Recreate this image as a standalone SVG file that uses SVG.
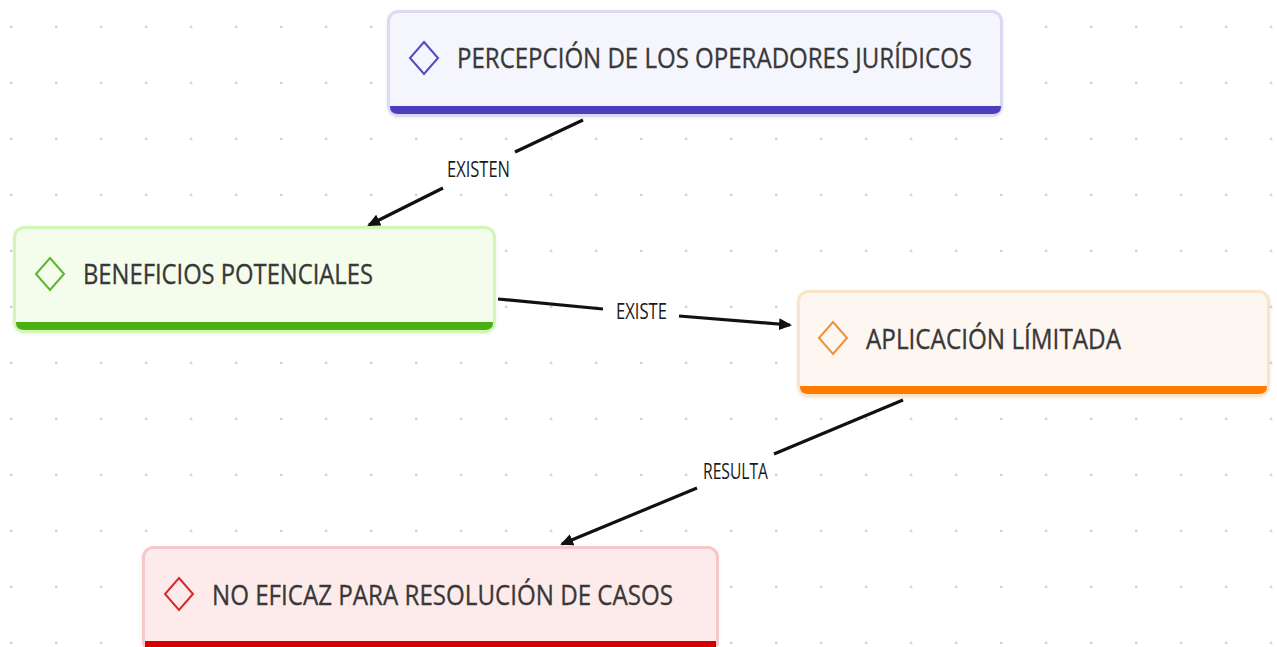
<svg xmlns="http://www.w3.org/2000/svg" width="1277" height="647" viewBox="0 0 1277 647">
  <defs>
    <pattern id="dots" x="0" y="0" width="45" height="56" patternUnits="userSpaceOnUse">
      <rect x="10" y="25.7" width="2.4" height="2.4" fill="#d2d2d2"/>
    </pattern>
    <marker id="arrow" markerUnits="userSpaceOnUse" markerWidth="14" markerHeight="12" refX="11" refY="6" orient="auto">
      <path d="M0,0 L13,6 L0,12 Z" fill="#111"/>
    </marker>
    <filter id="sh" x="-5%" y="-10%" width="110%" height="130%">
      <feDropShadow dx="0" dy="1" stdDeviation="1.5" flood-color="#000" flood-opacity="0.08"/>
    </filter>
  </defs>
  <style>
    .title { font-family: "Open Sans", "Noto Sans", "Liberation Sans", sans-serif; font-size: 28px; fill: #383838; stroke: #383838; stroke-width: 0.35; }
    .lbl { font-family: "Open Sans", "Noto Sans", "Liberation Sans", sans-serif; font-size: 21px; fill: #1a1a1a; }
    .edge { fill: none; stroke: #111; stroke-width: 3.2; }
    .card { stroke-width: 3; filter: url(#sh); }
    .dia { fill: none; stroke-width: 2; }
  </style>
  <rect width="1277" height="647" fill="#ffffff"/>
  <rect width="1277" height="647" fill="url(#dots)"/>

  <g id="connectors">
    <path class="edge" d="M583,120 L515,152 M443,188 L369,225" marker-end="url(#arrow)"/>
    <text class="lbl" x="447" y="177" textLength="63" lengthAdjust="spacingAndGlyphs">EXISTEN</text>
    <path class="edge" d="M498,299 L603,309 M679,316 L790,325" marker-end="url(#arrow)"/>
    <text class="lbl" x="616" y="319" textLength="51" lengthAdjust="spacingAndGlyphs">EXISTE</text>
    <path class="edge" d="M903,400 L774,454 M697,488 L562,544" marker-end="url(#arrow)"/>
    <text class="lbl" x="703" y="479" textLength="65" lengthAdjust="spacingAndGlyphs">RESULTA</text>
  </g>

  <g id="node-percepcion">
    <rect class="card" x="388.5" y="11.5" width="613" height="104" rx="10" fill="#f5f5fd" stroke="#dcdaf3"/>
    <path d="M390,106 H1001 V107 Q1001,114 993,114 H398 Q390,114 390,107 Z" fill="#4b3fc0"/>
    <path class="dia" d="M424,42 L438,58 L424,74 L410,58 Z" stroke="#5548c0"/>
    <text class="title" x="457" y="68" textLength="515" lengthAdjust="spacingAndGlyphs">PERCEPCIÓN DE LOS OPERADORES JURÍDICOS</text>
  </g>

  <g id="node-beneficios">
    <rect class="card" x="14.5" y="227.5" width="480" height="104" rx="10" fill="#f4fdec" stroke="#d2f5b8"/>
    <path d="M16,322 H493 V323 Q493,330 485,330 H24 Q16,330 16,323 Z" fill="#4caf12"/>
    <path class="dia" d="M50,258 L64,274 L50,290 L36,274 Z" stroke="#5cb531"/>
    <text class="title" x="83" y="284" textLength="290" lengthAdjust="spacingAndGlyphs">BENEFICIOS POTENCIALES</text>
  </g>

  <g id="node-aplicacion">
    <rect class="card" x="798.5" y="291.5" width="470" height="104" rx="10" fill="#fef6f0" stroke="#fbe3cc"/>
    <path d="M800,386 H1267 V387 Q1267,394 1259,394 H808 Q800,394 800,387 Z" fill="#ff7b00"/>
    <path class="dia" d="M833,322 L847,338 L833,354 L819,338 Z" stroke="#f0913a"/>
    <text class="title" x="866" y="348.5" textLength="255" lengthAdjust="spacingAndGlyphs">APLICACIÓN LÍMITADA</text>
  </g>

  <g id="node-noeficaz">
    <rect class="card" x="143.5" y="547.5" width="574" height="104" rx="10" fill="#fdebeb" stroke="#f7c8c8"/>
    <rect x="145" y="641" width="571" height="10" fill="#d40000"/>
    <path class="dia" d="M179,578 L193,594 L179,610 L165,594 Z" stroke="#d42a2a"/>
    <text class="title" x="212" y="604.5" textLength="461" lengthAdjust="spacingAndGlyphs">NO EFICAZ PARA RESOLUCIÓN DE CASOS</text>
  </g>
</svg>
